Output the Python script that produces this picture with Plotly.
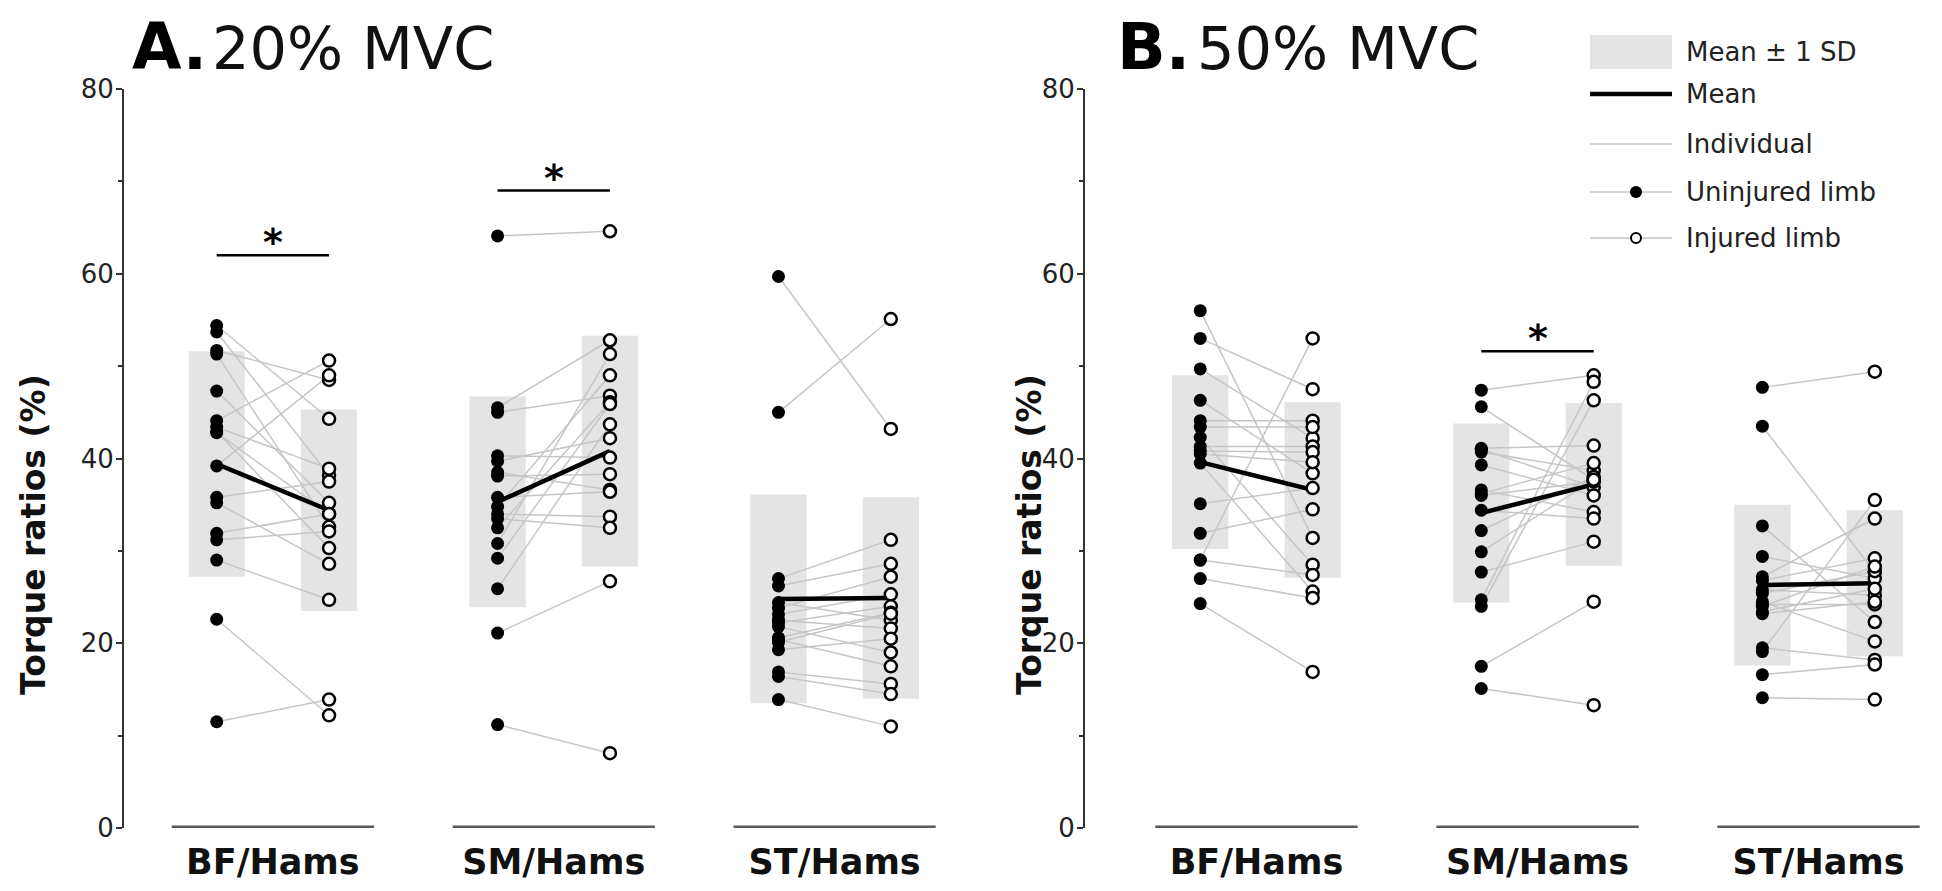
import plotly.graph_objects as go

W, H = 1942, 891
OFF = 8  # the page body margin shifts the whole figure by this many px
FONT = "DejaVu Sans"

categories = ["BF/Hams", "SM/Hams", "ST/Hams"]
y_ticks = [0, 20, 40, 60, 80]
y_minor = [10, 30, 50, 70]

# A. 20% MVC -- paired by subject: uninjured[i] <-> injured[i]
a_bf_uninj = [54.4, 53.7, 51.7, 51.3, 47.3, 44.1, 43.4, 42.9, 42.8, 39.2, 35.8, 35.2, 31.9, 31.2, 29.0, 22.6, 11.5]
a_bf_inj = [44.3, 38.2, 48.5, 32.6, 35.2, 50.6, 38.9, 30.3, 34.0, 49.0, 37.5, 28.6, 34.0, 32.1, 24.7, 12.2, 13.9]
a_sm_uninj = [64.1, 45.5, 45.0, 40.3, 39.7, 38.5, 38.1, 35.8, 34.8, 34.0, 33.5, 32.5, 30.8, 29.2, 25.9, 21.1, 11.2]
a_sm_inj = [64.6, 52.8, 46.8, 40.1, 42.2, 36.6, 38.3, 36.4, 49.0, 33.7, 32.5, 46.1, 51.3, 45.9, 43.7, 26.7, 8.1]
a_st_uninj = [59.7, 45.0, 27.0, 26.2, 24.4, 23.8, 23.1, 22.5, 22.2, 21.8, 20.6, 20.4, 20.1, 19.3, 16.9, 16.4, 13.9]
a_st_inj = [43.2, 55.1, 31.2, 28.6, 22.5, 27.2, 25.3, 21.6, 24.0, 19.0, 23.3, 17.5, 23.2, 20.5, 15.6, 14.5, 11.0]
a_mean_uninj = [39.4, 35.3, 24.8]
a_sd_uninj = [12.2, 11.4, 11.3]
a_mean_inj = [34.4, 40.8, 24.9]
a_sd_inj = [10.9, 12.5, 10.9]
a_sig = [62.0, 69.0, None]

# B. 50% MVC
b_bf_uninj = [56.0, 53.0, 49.7, 46.3, 44.1, 43.4, 42.3, 41.3, 40.8, 40.5, 39.5, 35.1, 31.9, 29.0, 29.0, 27.0, 24.3]
b_bf_inj = [31.4, 47.5, 42.2, 38.4, 44.1, 43.4, 28.5, 41.3, 40.7, 39.6, 25.6, 36.8, 34.5, 53.0, 27.4, 24.9, 16.9]
b_sm_uninj = [47.4, 45.6, 41.1, 41.0, 40.7, 39.3, 36.6, 36.2, 36.0, 34.4, 32.2, 29.9, 27.7, 24.7, 24.0, 17.5, 15.1]
b_sm_inj = [49.0, 37.7, 41.4, 36.9, 38.7, 36.0, 34.2, 39.5, 37.5, 33.5, 38.0, 37.7, 31.0, 48.3, 46.3, 24.5, 13.3]
b_st_uninj = [47.7, 43.5, 32.7, 29.4, 27.2, 26.8, 25.8, 25.4, 24.5, 24.2, 24.0, 23.4, 23.2, 19.5, 19.1, 16.6, 14.1]
b_st_inj = [49.4, 27.7, 22.3, 27.0, 33.5, 29.2, 25.2, 27.8, 20.2, 24.2, 28.3, 25.9, 24.5, 18.2, 35.5, 17.7, 13.9]
b_mean_uninj = [39.6, 34.1, 26.3]
b_sd_uninj = [9.4, 9.7, 8.7]
b_mean_inj = [36.6, 37.2, 26.5]
b_sd_inj = [9.5, 8.8, 7.9]
b_sig = [None, 51.6, None]

# styling / layout constants
DX = 0.2          # offset of each limb from the category centre
BOX = 0.1         # half width of the SD box
BASE = 0.36       # half width of the category baseline
BOX_COL = "#e4e4e4"
IND_COL = "#c6c6c6"


def px(x):
    # screen pixel -> paper fraction
    return (x - OFF) / W


def py(y):
    return 1 - (y - OFF) / H


panels = [
    dict(ax="", letter="A.", sub="20% MVC", dom=[124, 947], xr=[-0.53, 2.4], title_x=130, ylab_x=33,
         uninj=[a_bf_uninj, a_sm_uninj, a_st_uninj], inj=[a_bf_inj, a_sm_inj, a_st_inj],
         mu_u=a_mean_uninj, sd_u=a_sd_uninj, mu_i=a_mean_inj, sd_i=a_sd_inj, sig=a_sig),
    dict(ax="2", letter="B.", sub="50% MVC", dom=[1085, 1931], xr=[-0.61, 2.4], title_x=1115, ylab_x=1029,
         uninj=[b_bf_uninj, b_sm_uninj, b_st_uninj], inj=[b_bf_inj, b_sm_inj, b_st_inj],
         mu_u=b_mean_uninj, sd_u=b_sd_uninj, mu_i=b_mean_inj, sd_i=b_sd_inj, sig=b_sig),
]

fig = go.Figure()
shapes = []
annotations = []

for p in panels:
    xr, yr = "x" + p["ax"], "y" + p["ax"]
    for i, cat in enumerate(categories):
        u, v = p["uninj"][i], p["inj"][i]
        xl, xo = i - DX, i + DX

        # mean +/- 1 SD boxes
        for xc, m, s in [(xl, p["mu_u"][i], p["sd_u"][i]), (xo, p["mu_i"][i], p["sd_i"][i])]:
            shapes.append(dict(type="rect", xref=xr, yref=yr, x0=xc - BOX, x1=xc + BOX,
                               y0=m - s, y1=m + s, fillcolor=BOX_COL, line_width=0, layer="below"))

        # category baseline
        shapes.append(dict(type="line", xref=xr, yref=yr, x0=i - BASE, x1=i + BASE, y0=0, y1=0,
                           line=dict(color="#5a5a5a", width=5)))

        # individual pairs
        lx, ly = [], []
        for a, b in zip(u, v):
            lx += [xl, xo, None]
            ly += [a, b, None]
        fig.add_trace(go.Scatter(x=lx, y=ly, mode="lines", xaxis=xr, yaxis=yr,
                                 line=dict(color=IND_COL, width=1.5), hoverinfo="skip",
                                 showlegend=False))

        # group mean
        fig.add_trace(go.Scatter(x=[xl, xo], y=[p["mu_u"][i], p["mu_i"][i]], mode="lines",
                                 xaxis=xr, yaxis=yr, line=dict(color="black", width=4.5),
                                 showlegend=False))

        # uninjured (filled) and injured (open) limbs
        fig.add_trace(go.Scatter(x=[xl] * len(u), y=u, mode="markers", xaxis=xr, yaxis=yr,
                                 marker=dict(color="black", size=13, line=dict(width=0)),
                                 cliponaxis=False, showlegend=False, name="Uninjured limb"))
        fig.add_trace(go.Scatter(x=[xo] * len(v), y=v, mode="markers", xaxis=xr, yaxis=yr,
                                 marker=dict(color="white", size=12, line=dict(color="black", width=2.5)),
                                 cliponaxis=False, showlegend=False, name="Injured limb"))

        # significance bar
        if p["sig"][i] is not None:
            shapes.append(dict(type="line", xref=xr, yref=yr, x0=xl, x1=xo,
                               y0=p["sig"][i], y1=p["sig"][i], line=dict(color="black", width=2.5)))
            annotations.append(dict(x=i, y=p["sig"][i] + 1.4, xref=xr, yref=yr, text="<b>*</b>",
                                    showarrow=False, yanchor="middle",
                                    font=dict(family=FONT, size=38, color="black")))

    # panel titles
    annotations.append(dict(x=px(p["title_x"]), y=py(47), xref="paper", yref="paper",
                            text="<b>" + p["letter"] + "</b>", showarrow=False, xanchor="left",
                            yanchor="middle", font=dict(family=FONT, size=64, color="black")))
    annotations.append(dict(x=px(p["title_x"] + 80), y=py(48), xref="paper", yref="paper",
                            text=p["sub"], showarrow=False, xanchor="left", yanchor="middle",
                            font=dict(family=FONT, size=59, color="#111")))
    # y title
    annotations.append(dict(x=px(p["ylab_x"]), y=py(535), xref="paper", yref="paper",
                            text="<b>Torque ratios (%)</b>", textangle=-90, showarrow=False,
                            xanchor="center", yanchor="middle",
                            font=dict(family=FONT, size=33, color="#111")))

# legend, drawn by hand in the top right corner
LX0, LX1, LT = 1590, 1672, 1684
shapes.append(dict(type="rect", xref="paper", yref="paper", x0=px(LX0), x1=px(LX1),
                   y0=py(69), y1=py(35), fillcolor=BOX_COL, line_width=0))
shapes.append(dict(type="line", xref="paper", yref="paper", x0=px(LX0), x1=px(LX1),
                   y0=py(94), y1=py(94), line=dict(color="black", width=4.5)))
for yy in [144, 192, 238]:
    shapes.append(dict(type="line", xref="paper", yref="paper", x0=px(LX0), x1=px(LX1),
                       y0=py(yy), y1=py(yy), line=dict(color=IND_COL, width=1.5)))
shapes.append(dict(type="circle", xref="paper", yref="paper", xsizemode="pixel", ysizemode="pixel",
                   xanchor=px(1636), yanchor=py(192), x0=-6, x1=6, y0=-6, y1=6,
                   fillcolor="black", line_width=0))
shapes.append(dict(type="circle", xref="paper", yref="paper", xsizemode="pixel", ysizemode="pixel",
                   xanchor=px(1636), yanchor=py(238), x0=-5, x1=5, y0=-5, y1=5,
                   fillcolor="white", line=dict(color="black", width=2)))
for txt, yy in [("Mean ± 1 SD", 52), ("Mean", 94), ("Individual", 144),
                ("Uninjured limb", 192), ("Injured limb", 238)]:
    annotations.append(dict(x=px(LT), y=py(yy), xref="paper", yref="paper", text=txt,
                            showarrow=False, xanchor="left", yanchor="middle",
                            font=dict(family=FONT, size=26, color="#222")))

axis_y = dict(range=[0, 80], domain=[py(828), py(89)], automargin=False, showgrid=False,
              zeroline=False, showline=True, linecolor="#333", linewidth=2, ticks="outside",
              ticklen=6, tickwidth=2, tickcolor="#333", tickvals=y_ticks, ticklabelstandoff=-3,
              minor=dict(tickvals=y_minor, ticks="outside", ticklen=4, tickwidth=2, tickcolor="#333"),
              tickfont=dict(family=FONT, size=26, color="#222"))
axis_x = dict(automargin=False, showgrid=False, zeroline=False, showline=False,
              ticks="", ticklabelstandoff=10, tickvals=[0, 1, 2],
              ticktext=["<b>" + c + "</b>" for c in categories],
              tickfont=dict(family=FONT, size=35, color="#111"))

fig.update_layout(
    width=W, height=H,
    margin=dict(l=0, r=0, t=0, b=0, autoexpand=False),
    paper_bgcolor="white", plot_bgcolor="white",
    xaxis=dict(axis_x, range=panels[0]["xr"], domain=[px(panels[0]["dom"][0]), px(panels[0]["dom"][1])], anchor="y"),
    yaxis=dict(axis_y, anchor="x"),
    xaxis2=dict(axis_x, range=panels[1]["xr"], domain=[px(panels[1]["dom"][0]), px(panels[1]["dom"][1])], anchor="y2"),
    yaxis2=dict(axis_y, anchor="x2"),
    shapes=shapes,
    annotations=annotations,
    showlegend=False,
)

fig.write_html("out.html")
